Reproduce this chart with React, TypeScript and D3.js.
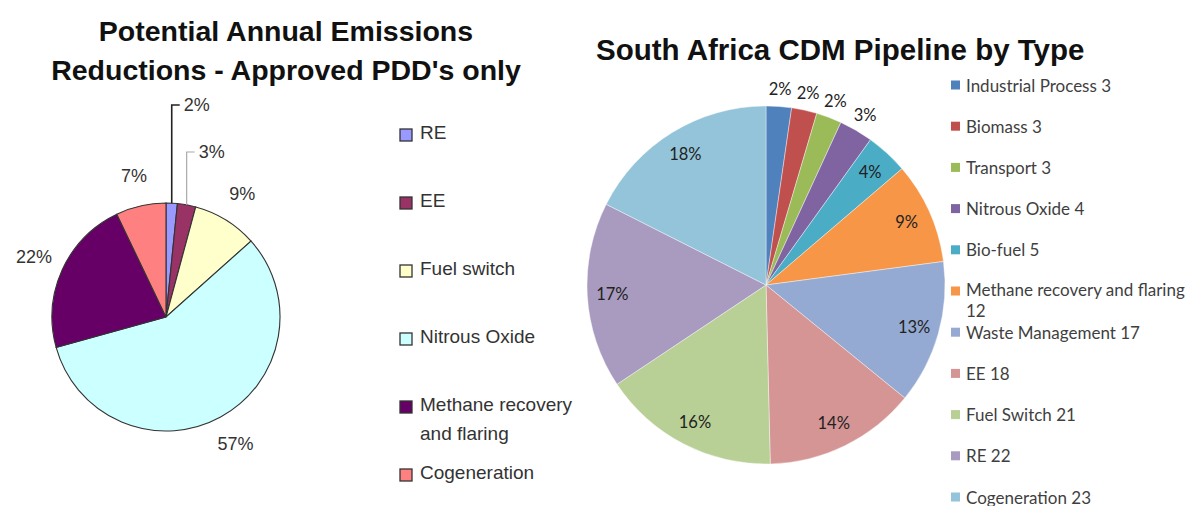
import React from "react";
import * as d3 from "d3";

// left chart: potential annual emissions reductions (shares, %)
const leftCategories = ["RE", "EE", "Fuel switch", "Nitrous Oxide", "Methane recovery and flaring", "Cogeneration"];
const leftShares = [1.6, 2.6, 9.2, 57.3, 22.2, 7.1];
const leftLegendLines = [["RE"], ["EE"], ["Fuel switch"], ["Nitrous Oxide"], ["Methane recovery", "and flaring"], ["Cogeneration"]];
const leftColors = ["#9999ff", "#993366", "#ffffcc", "#ccffff", "#660066", "#ff8080"];

// right chart: CDM pipeline by type (project counts)
const rightCategories = [
  "Industrial Process", "Biomass", "Transport", "Nitrous Oxide", "Bio-fuel",
  "Methane recovery and flaring", "Waste Management", "EE", "Fuel Switch", "RE", "Cogeneration",
];
const rightCounts = [3, 3, 3, 4, 5, 12, 17, 18, 21, 22, 23];
const rightColors = [
  "#4f81bd", "#c0504d", "#9bbb59", "#8064a2", "#4bacc6", "#f79646",
  "#95aad3", "#d49594", "#b8cf95", "#a99bc0", "#93c4d9",
];

const W = 1196;
const H = 506;

const LeftChart = () => {
  const cx = 166, cy = 317, R = 114;
  const pie = d3.pie<number>().sort(null).value((d) => d);
  const arcs = pie(leftShares);
  const arc = d3.arc<d3.PieArcDatum<number>>().innerRadius(0).outerRadius(R);
  const labelArc = d3.arc<d3.PieArcDatum<number>>().innerRadius(145).outerRadius(145);
  // labels of the two thin slices are lifted up on a leader line
  const leaderRise: Record<number, { top: number; color: string; w: number }> = {
    0: { top: 212, color: "#222", w: 1.6 },
    1: { top: 165, color: "#aaa", w: 1.2 },
  };
  const font = "'Liberation Sans', Arial, sans-serif";

  return (
    <g>
      <text x={286} y={41} textAnchor="middle" fontFamily={font} fontWeight="bold" fontSize={28.5} fill="#111">
        Potential Annual Emissions
      </text>
      <text x={286} y={80} textAnchor="middle" fontFamily={font} fontWeight="bold" fontSize={28.5} fill="#111">
        Reductions - Approved PDD's only
      </text>
      <g transform={`translate(${cx},${cy})`}>
        {arcs.map((d, i) => (
          <path key={i} d={arc(d) || ""} fill={leftColors[i]} stroke="#333" strokeWidth={1.1} />
        ))}
        {arcs.map((d, i) => {
          const label = Math.round(d.value) + "%";
          const lead = leaderRise[i];
          if (lead) {
            const a = (d.startAngle + d.endAngle) / 2;
            const x0 = R * Math.sin(a);
            const y0 = -R * Math.cos(a);
            const yTop = -lead.top;
            return (
              <g key={i}>
                <path d={`M${x0},${y0}V${yTop}H${x0 + 8}`} fill="none" stroke={lead.color} strokeWidth={lead.w} />
                <text x={x0 + 12} y={yTop} dominantBaseline="central" fontFamily={font} fontSize={18} fill="#333">
                  {label}
                </text>
              </g>
            );
          }
          const [lx, ly] = labelArc.centroid(d);
          return (
            <text key={i} x={lx} y={ly} textAnchor="middle" dominantBaseline="central" fontFamily={font} fontSize={18} fill="#333">
              {label}
            </text>
          );
        })}
      </g>
      <g>
        {leftCategories.map((c, i) => {
          const y = 135 + i * 68;
          const lines = leftLegendLines[i];
          return (
            <g key={c}>
              <rect x={400} y={y - 6} width={12} height={12} fill={leftColors[i]} stroke="#333" strokeWidth={1.3} />
              {lines.map((ln, j) => (
                <text key={j} x={420} y={y - 3 + j * 29} dominantBaseline="central" fontFamily={font} fontSize={19} fill="#333">
                  {ln}
                </text>
              ))}
            </g>
          );
        })}
      </g>
    </g>
  );
};

const RightChart = () => {
  const cx = 766, cy = 285, R = 179;
  const total = d3.sum(rightCounts);
  const pie = d3.pie<number>().sort(null).value((d) => d);
  const arcs = pie(rightCounts);
  const arc = d3.arc<d3.PieArcDatum<number>>().innerRadius(0).outerRadius(R);
  const inner = d3.arc<d3.PieArcDatum<number>>().innerRadius(R * 0.86).outerRadius(R * 0.86);
  const outer = d3.arc<d3.PieArcDatum<number>>().innerRadius(R * 1.1).outerRadius(R * 1.1);
  const font = "Lato, 'Open Sans', sans-serif";

  return (
    <g>
      <text x={596} y={60} fontFamily="'Liberation Sans', Arial, sans-serif" fontWeight="bold" fontSize={29.5} fill="#111">
        South Africa CDM Pipeline by Type
      </text>
      <g transform={`translate(${cx},${cy})`}>
        {arcs.map((d, i) => (
          <path key={i} d={arc(d) || ""} fill={rightColors[i]} stroke="#ffffff" strokeOpacity={0.5} strokeWidth={0.8} />
        ))}
        {arcs.map((d, i) => {
          const share = d.value / total;
          const [lx, ly] = (share < 0.035 ? outer : inner).centroid(d);
          return (
            <text key={i} x={lx} y={ly} textAnchor="middle" dominantBaseline="central" fontFamily={font} fontSize={16.5} fill="#222">
              {Math.round(share * 100) + "%"}
            </text>
          );
        })}
      </g>
      <g>
        {rightCategories.map((c, i) => {
          const y = 85 + i * 41.2;
          const wrap = c.length > 24;
          return (
            <g key={c}>
              <rect x={951} y={y - 4.5} width={9} height={9} fill={rightColors[i]} />
              <text x={966} y={wrap ? y - 2 : y} dominantBaseline="central" fontFamily={font} fontSize={17} fill="#3f3f3f">
                {wrap ? c : `${c} ${rightCounts[i]}`}
              </text>
              {wrap && (
                <text x={966} y={y + 19} dominantBaseline="central" fontFamily={font} fontSize={17} fill="#3f3f3f">
                  {rightCounts[i]}
                </text>
              )}
            </g>
          );
        })}
      </g>
    </g>
  );
};

export default function App() {
  return (
    <svg width={W} height={H} style={{ position: "absolute", left: 0, top: 0, background: "#fff" }}>
      <rect width={W} height={H} fill="#fff" />
      <LeftChart />
      <RightChart />
    </svg>
  );
}
